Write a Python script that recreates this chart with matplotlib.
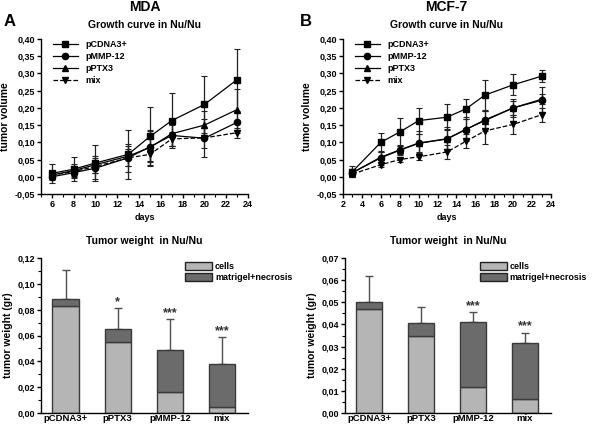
import numpy as np
import matplotlib
matplotlib.use("Agg")
import matplotlib.pyplot as plt
from matplotlib.ticker import MultipleLocator, FuncFormatter
from matplotlib.lines import Line2D
from matplotlib.patches import Patch

plt.rcParams['font.family'] = ['Liberation Sans', 'DejaVu Sans']
plt.rcParams['font.weight'] = 'bold'

# growth curves, MDA
days_a = [6, 8, 10, 13, 15, 17, 20, 23]
mda_cdna = [0.010, 0.022, 0.040, 0.065, 0.117, 0.163, 0.210, 0.282]
mda_cdna_err = [0.028, 0.035, 0.052, 0.070, 0.086, 0.079, 0.082, 0.090]
mda_mmp = [0.000, 0.012, 0.025, 0.055, 0.087, 0.120, 0.112, 0.158]
mda_mmp_err = [0.010, 0.015, 0.030, 0.040, 0.045, 0.030, 0.055, 0.030]
mda_ptx = [0.005, 0.018, 0.035, 0.060, 0.085, 0.125, 0.150, 0.195]
mda_ptx_err = [0.012, 0.020, 0.025, 0.030, 0.050, 0.035, 0.040, 0.060]
mda_mix = [0.005, 0.015, 0.030, 0.055, 0.065, 0.110, 0.113, 0.128]
mda_mix_err = [0.010, 0.012, 0.020, 0.025, 0.020, 0.020, 0.030, 0.015]

# growth curves, MCF-7
days_b = [3, 6, 8, 10, 13, 15, 17, 20, 23]
mcf_cdna = [0.015, 0.100, 0.130, 0.163, 0.173, 0.197, 0.237, 0.267, 0.292]
mcf_cdna_err = [0.015, 0.028, 0.042, 0.038, 0.038, 0.028, 0.045, 0.030, 0.018]
mcf_mmp = [0.012, 0.055, 0.077, 0.097, 0.110, 0.137, 0.165, 0.200, 0.222]
mcf_mmp_err = [0.010, 0.020, 0.015, 0.035, 0.030, 0.030, 0.025, 0.020, 0.038]
mcf_ptx = [0.012, 0.057, 0.078, 0.098, 0.110, 0.138, 0.163, 0.200, 0.225]
mcf_ptx_err = [0.012, 0.015, 0.012, 0.025, 0.035, 0.035, 0.030, 0.025, 0.015]
mcf_mix = [0.008, 0.035, 0.050, 0.058, 0.072, 0.103, 0.133, 0.152, 0.180]
mcf_mix_err = [0.008, 0.007, 0.007, 0.010, 0.020, 0.020, 0.038, 0.028, 0.020]

# tumor weights
groups = ['pCDNA3+', 'pPTX3', 'pMMP-12', 'mix']
mda_cells = [0.083, 0.055, 0.016, 0.005]
mda_total = [0.088, 0.065, 0.049, 0.038]
mda_werr = [0.023, 0.0165, 0.024, 0.0205]
mda_stars = ['', '*', '***', '***']
mcf_cells = [0.047, 0.0347, 0.0117, 0.0062]
mcf_total = [0.050, 0.0405, 0.0413, 0.0315]
mcf_werr = [0.012, 0.0075, 0.0044, 0.0048]
mcf_stars = ['', '', '***', '***']

comma = FuncFormatter(lambda v, p: ('%.2f' % v).replace('.', ','))

fig = plt.figure(figsize=(5.92, 4.26), dpi=100)

def style_axes(ax):
    for s in ['top', 'right']:
        ax.spines[s].set_visible(False)
    ax.spines['left'].set_linewidth(1.0)
    ax.spines['bottom'].set_linewidth(1.0)
    ax.tick_params(labelsize=6.5, width=1, length=3, pad=1.5)
    ax.tick_params(which='minor', width=0.8, length=2)
    for lab in ax.get_xticklabels() + ax.get_yticklabels():
        lab.set_fontweight('bold')

def growth(ax, days, series, xmin):
    names = ['pCDNA3+', 'pMMP-12', 'pPTX3', 'mix']
    markers = ['s', 'o', '^', 'v']
    styles = ['-', '-', '-', '--']
    for (y, e), nm, mk, ls in zip(series, names, markers, styles):
        ax.errorbar(days, y, yerr=e, color='black', marker=mk, ms=4.5, lw=0.9,
                    ls=ls, elinewidth=0.9, capsize=2, capthick=0.8, ecolor='#222222', label=nm)
    ax.set_xlim(xmin, 24)
    ax.set_ylim(-0.05, 0.40)
    ax.xaxis.set_major_locator(MultipleLocator(2))
    ax.xaxis.set_minor_locator(MultipleLocator(1))
    ax.yaxis.set_major_locator(MultipleLocator(0.05))
    ax.yaxis.set_major_formatter(comma)
    ax.set_xlabel('days', fontsize=6.5, fontweight='bold', labelpad=3)
    ax.set_ylabel('tumor volume', fontsize=7.5, fontweight='bold', labelpad=3)
    ax.set_title('Growth curve in Nu/Nu', fontsize=7.5, fontweight='bold', pad=8)
    handles = [Line2D([], [], color='black', marker=mk, ms=4.5, lw=0.9, ls=ls)
               for mk, ls in zip(markers, styles)]
    leg = ax.legend(handles, names, loc='upper left', frameon=False, fontsize=6.5,
                    handlelength=2.8, labelspacing=0.35, borderaxespad=0.2,
                    bbox_to_anchor=(0.03, 1.03))
    for t in leg.get_texts():
        t.set_fontweight('bold')
    style_axes(ax)

def weights(ax, cells, total, err, stars, ymax, step, legx):
    x = np.arange(len(groups))
    necro = np.array(total) - np.array(cells)
    ax.bar(x, cells, width=0.5, color='#b5b5b5', edgecolor='#3a3a3a', lw=1.0, zorder=2)
    ax.bar(x, necro, width=0.5, bottom=cells, color='#6b6b6b', edgecolor='#3a3a3a', lw=1.0, zorder=2)
    ax.errorbar(x, total, yerr=[np.zeros(len(x)), err], fmt='none', ecolor='#505050',
                elinewidth=1.0, capsize=3, capthick=1.0, zorder=1)
    for xi, t, e, s in zip(x, total, err, stars):
        if s:
            ax.text(xi, t + e, s, ha='center', va='bottom', fontsize=9, color='#333333')
    ax.set_xlim(-0.47, 3.5)
    ax.set_ylim(0, ymax)
    ax.set_xticks(x)
    ax.set_xticklabels(groups)
    ax.yaxis.set_major_locator(MultipleLocator(step))
    ax.yaxis.set_minor_locator(MultipleLocator(step / 2))
    ax.yaxis.set_major_formatter(comma)
    ax.set_ylabel('tumor weight (gr)', fontsize=7.5, fontweight='bold', labelpad=3)
    ax.set_title('Tumor weight  in Nu/Nu', fontsize=7.5, fontweight='bold', pad=10)
    leg = ax.legend([Patch(facecolor='#b5b5b5', edgecolor='#222222'),
                     Patch(facecolor='#6b6b6b', edgecolor='#222222')],
                    ['cells', 'matrigel+necrosis'], loc='upper right', frameon=False,
                    fontsize=6.5, handlelength=3.0, handleheight=1.0, labelspacing=0.2,
                    handletextpad=0.3, borderaxespad=0.2, bbox_to_anchor=(legx, 1.01))
    for t in leg.get_texts():
        t.set_fontweight('bold')
    style_axes(ax)
    ax.tick_params(axis='x', length=0, labelsize=6.8, pad=1)

ax1 = fig.add_axes([41 / 592, 1 - 194 / 426, 207 / 592, 155 / 426])
growth(ax1, days_a, [(mda_cdna, mda_cdna_err), (mda_mmp, mda_mmp_err),
                     (mda_ptx, mda_ptx_err), (mda_mix, mda_mix_err)], 5)
ax2 = fig.add_axes([343 / 592, 1 - 194 / 426, 208 / 592, 155 / 426])
growth(ax2, days_b, [(mcf_cdna, mcf_cdna_err), (mcf_mmp, mcf_mmp_err),
                     (mcf_ptx, mcf_ptx_err), (mcf_mix, mcf_mix_err)], 2)
ax3 = fig.add_axes([41 / 592, 1 - 413 / 426, 207 / 592, 155 / 426])
weights(ax3, mda_cells, mda_total, mda_werr, mda_stars, 0.12, 0.02, 1.24)
ax4 = fig.add_axes([345 / 592, 1 - 413 / 426, 206 / 592, 155 / 426])
weights(ax4, mcf_cells, mcf_total, mcf_werr, mcf_stars, 0.07, 0.01, 1.20)

fig.text(145 / 592, 1 - 7 / 426, 'MDA', ha='center', va='center', fontsize=10, fontweight='bold')
fig.text(446 / 592, 1 - 7 / 426, 'MCF-7', ha='center', va='center', fontsize=10, fontweight='bold')
fig.text(4 / 592, 1 - 22 / 426, 'A', ha='left', va='center', fontsize=12, fontweight='bold')
fig.text(300 / 592, 1 - 22 / 426, 'B', ha='left', va='center', fontsize=12, fontweight='bold')

fig.savefig('out.png', dpi=100)
